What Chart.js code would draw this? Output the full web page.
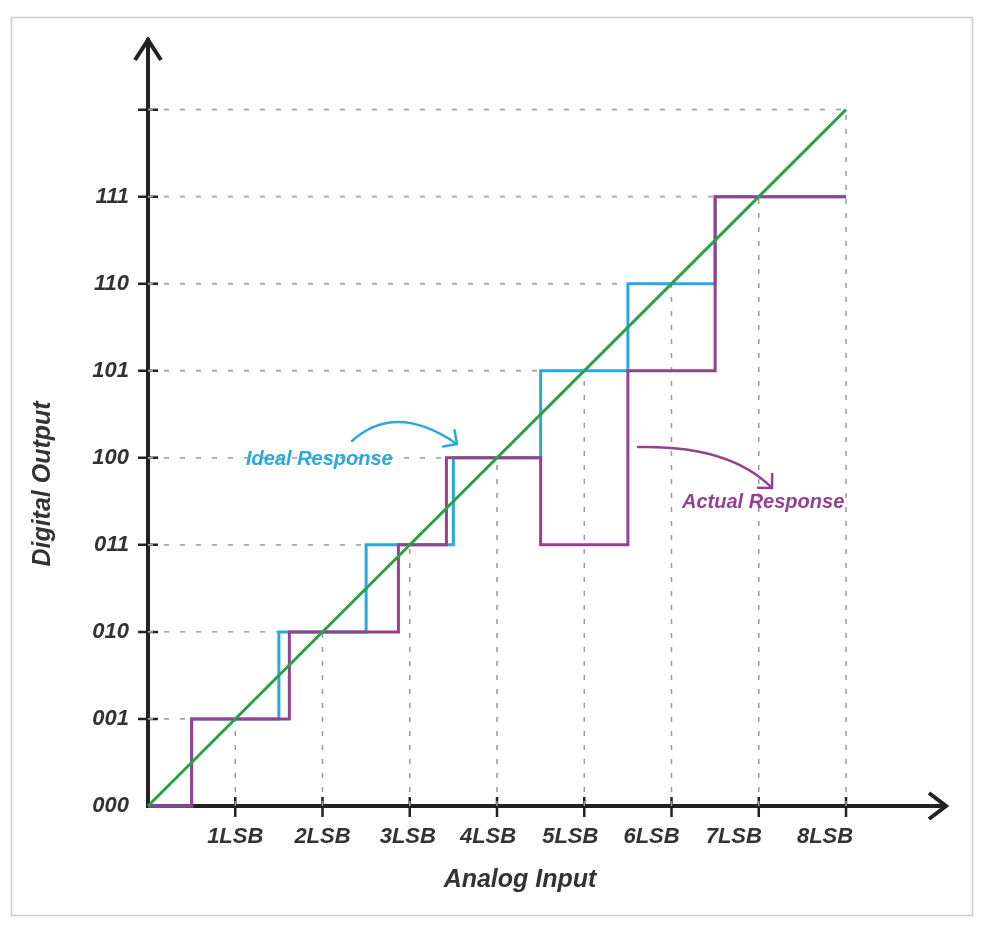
<!DOCTYPE html>
<html>
<head>
<meta charset="utf-8">
<script src="https://cdn.jsdelivr.net/npm/chart.js@4.4.1/dist/chart.umd.min.js"></script>
<style>
  html, body { margin: 0; padding: 0; background: #ffffff; }
  #c { display: block; }
</style>
</head>
<body>
<canvas id="c" width="983" height="931"></canvas>
<script>
// ---------------- data ----------------
const xTicks = [1, 2, 3, 4, 5, 6, 7, 8];
const xTickLabels = ['1LSB', '2LSB', '3LSB', '4LSB', '5LSB', '6LSB', '7LSB', '8LSB'];
const yTicks = [0, 1, 2, 3, 4, 5, 6, 7, 8];
const yTickLabels = ['000', '001', '010', '011', '100', '101', '110', '111', ''];

// ideal transfer (step starts at x, holds level y)
const idealX = [0, 0.5, 1.5, 2.5, 3.5, 4.5, 5.5, 6.5, 8];
const idealY = [0, 1, 2, 3, 4, 5, 6, 7, 7];
// actual transfer
const actualX = [0, 0.5, 1.62, 2.87, 3.42, 4.5, 5.5, 6.5, 8];
const actualY = [0, 1, 2, 3, 4, 3, 5, 7, 7];
// straight-line analog reference
const lineX = [0, 8];
const lineY = [0, 8];
// guide levels
const guideLevels = [1, 2, 3, 4, 5, 6, 7, 8];

// ---------------- build ----------------
const pts = (xs, ys) => xs.map((x, i) => ({ x: x, y: ys[i] }));
const hGuides = [];
const vGuides = [];
guideLevels.forEach(k => {
  hGuides.push({ x: 0, y: k }, { x: k, y: k }, { x: k, y: null });
  vGuides.push({ x: k, y: 0 }, { x: k, y: k }, { x: k, y: null });
});

const FONT = "'Liberation Sans', Arial, Helvetica, sans-serif";
const INK = '#333333';
const AXIS = '#222222';
const BLUE = '#2BA8E0';
const PURPLE = '#96408E';
const GREEN = '#27A346';

// label nudges (layout only)
const xLabelNudge = [0, 0, -2, -9, -14, -20, -25, -21];

const decor = {
  id: 'decor',
  beforeDraw(chart) {
    const ctx = chart.ctx;
    ctx.save();
    ctx.strokeStyle = '#cccccc';
    ctx.lineWidth = 1.5;
    ctx.strokeRect(11.5, 17.5, 961, 898);
    ctx.restore();
  },
  beforeDatasetsDraw(chart) {
    const ctx = chart.ctx;
    const xs = chart.scales.x, ys = chart.scales.y;
    const x0 = xs.getPixelForValue(0), y0 = ys.getPixelForValue(0);
    ctx.save();
    ctx.strokeStyle = AXIS;
    ctx.lineWidth = 2.5;
    ctx.lineCap = 'butt';
    // tick marks
    ctx.beginPath();
    xTicks.forEach(v => {
      const px = xs.getPixelForValue(v);
      ctx.moveTo(px, y0 - 9); ctx.lineTo(px, y0 + 11);
    });
    yTicks.slice(1).forEach(v => {
      const py = ys.getPixelForValue(v);
      ctx.moveTo(x0 - 10, py); ctx.lineTo(x0 + 10, py);
    });
    ctx.stroke();
    // arrow heads
    ctx.lineWidth = 4;
    ctx.lineJoin = 'miter';
    const top = chart.chartArea.top;
    const right = chart.chartArea.right;
    ctx.beginPath();
    ctx.moveTo(x0 - 13, top + 20); ctx.lineTo(x0, top); ctx.lineTo(x0 + 13, top + 20);
    ctx.moveTo(right - 13, y0 - 13); ctx.lineTo(right + 4, y0); ctx.lineTo(right - 13, y0 + 13);
    ctx.stroke();
    ctx.restore();
  },
  afterDatasetsDraw(chart) {
    const ctx = chart.ctx;
    const xs = chart.scales.x, ys = chart.scales.y;
    const y0 = ys.getPixelForValue(0);
    ctx.save();
    // x tick labels
    ctx.fillStyle = INK;
    ctx.font = 'italic bold 22px ' + FONT;
    ctx.textAlign = 'center';
    ctx.textBaseline = 'middle';
    xTicks.forEach((v, i) => {
      ctx.fillText(xTickLabels[i], xs.getPixelForValue(v) + xLabelNudge[i], y0 + 31);
    });
    // axis titles
    ctx.font = 'italic bold 25px ' + FONT;
    ctx.fillText('Analog Input', 520, 880);
    ctx.save();
    ctx.translate(43, 484);
    ctx.rotate(-Math.PI / 2);
    ctx.fillText('Digital Output', 0, 0);
    ctx.restore();

    // annotations
    const arrow = (p0, c, p2, color) => {
      ctx.strokeStyle = color;
      ctx.lineWidth = 2.5;
      ctx.lineCap = 'round';
      ctx.lineJoin = 'round';
      ctx.beginPath();
      ctx.moveTo(p0[0], p0[1]);
      ctx.quadraticCurveTo(c[0], c[1], p2[0], p2[1]);
      ctx.stroke();
      const ang = Math.atan2(p2[1] - c[1], p2[0] - c[0]) + Math.PI;
      const L = 14, spread = Math.PI / 4;
      ctx.beginPath();
      ctx.moveTo(p2[0] + L * Math.cos(ang - spread), p2[1] + L * Math.sin(ang - spread));
      ctx.lineTo(p2[0], p2[1]);
      ctx.lineTo(p2[0] + L * Math.cos(ang + spread), p2[1] + L * Math.sin(ang + spread));
      ctx.stroke();
    };
    arrow([352, 441], [395.5, 401.5], [457, 444], BLUE);
    arrow([638, 447], [730, 445], [772, 488], PURPLE);

    ctx.font = 'italic bold 20px ' + FONT;
    ctx.textAlign = 'left';
    ctx.textBaseline = 'middle';
    ctx.fillStyle = BLUE;
    ctx.fillText('Ideal Response', 246, 459);
    ctx.fillStyle = PURPLE;
    ctx.fillText('Actual Response', 682, 502);
    ctx.restore();
  }
};

new Chart(document.getElementById('c'), {
  type: 'line',
  data: {
    datasets: [
      { label: 'Analog', data: pts(lineX, lineY), borderColor: GREEN, borderWidth: 3,
        pointRadius: 0, fill: false, clip: false, order: 0 },
      { label: 'Actual Response', data: pts(actualX, actualY), stepped: true, borderColor: PURPLE,
        borderWidth: 3, pointRadius: 0, fill: false, clip: false, order: 1 },
      { label: 'Ideal Response', data: pts(idealX, idealY), stepped: true, borderColor: BLUE,
        borderWidth: 3, pointRadius: 0, fill: false, clip: false, order: 2 },
      { label: 'h', data: hGuides, borderColor: '#a8a8a8', borderWidth: 1.8, borderDash: [5, 11],
        pointRadius: 0, spanGaps: false, fill: false, clip: false, order: 3 },
      { label: 'v', data: vGuides, borderColor: '#9a9a9a', borderWidth: 1.5, borderDash: [5, 9],
        pointRadius: 0, spanGaps: false, fill: false, clip: false, order: 4 }
    ]
  },
  options: {
    responsive: false,
    animation: false,
    events: [],
    layout: { padding: { left: 0, top: 40, right: 41, bottom: 0 } },
    plugins: { legend: { display: false }, tooltip: { enabled: false }, title: { display: false } },
    scales: {
      x: {
        type: 'linear', min: 0, max: 9.1,
        grid: { display: false, drawTicks: false },
        border: { display: true, color: AXIS, width: 4 },
        ticks: { display: false },
        afterFit(s) { s.height = 125; }
      },
      y: {
        type: 'linear', min: 0, max: 8.8,
        grid: { display: false, drawTicks: false },
        border: { display: true, color: AXIS, width: 4 },
        afterBuildTicks(s) { s.ticks = yTicks.map(v => ({ value: v })); },
        ticks: {
          padding: 19,
          color: INK,
          font: { family: FONT, size: 22, style: 'italic', weight: 'bold' },
          callback: (v) => yTickLabels[v] !== undefined ? yTickLabels[v] : ''
        },
        afterFit(s) { s.width = 148; }
      }
    }
  },
  plugins: [decor]
});
</script>
</body>
</html>
